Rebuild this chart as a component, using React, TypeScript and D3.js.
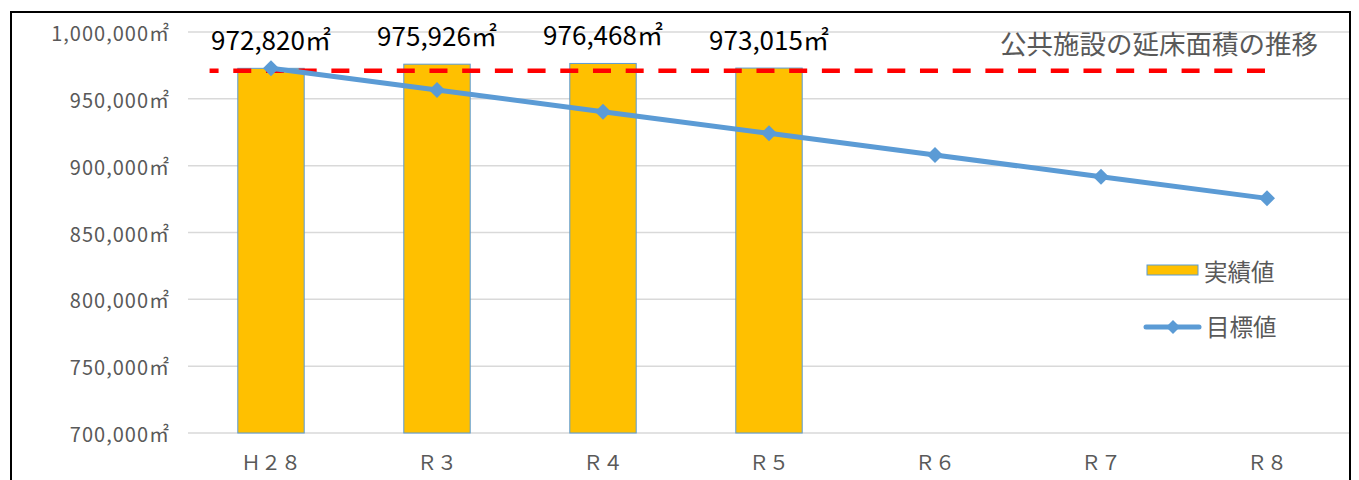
import React from "react";
import * as d3 from "d3";

// 年度（横軸）
const categories: string[] = ["Ｈ２８", "Ｒ３", "Ｒ４", "Ｒ５", "Ｒ６", "Ｒ７", "Ｒ８"];
// 実績値（㎡）
const actualValues: (number | null)[] = [972820, 975926, 976468, 973015, null, null, null];
// 目標値（㎡）
const targetValues: number[] = [972820, 956606, 940393, 924179, 907965, 891751, 875538];
// 基準線（赤破線）
const referenceValue = 971000;
// 縦軸目盛
const yTicks: number[] = [700000, 750000, 800000, 850000, 900000, 950000, 1000000];

const chartTitle = "公共施設の延床面積の推移";
const legendLabels = { actual: "実績値", target: "目標値" };

const W = 1359;
const H = 480;
const plot = { left: 188, right: 1350, top: 32, bottom: 433 };

const FONT = "'Noto Sans CJK JP', 'Noto Sans', sans-serif";
const GRAY = "#595959";
const BLUE = "#5B9BD5";
const GOLD = "#FFC000";

const fmt = d3.format(",");

export default function App() {
  const x = d3
    .scaleBand<string>()
    .domain(categories)
    .range([plot.left, plot.right])
    .paddingInner(0)
    .paddingOuter(0);
  const y = d3.scaleLinear().domain([700000, 1000000]).range([plot.bottom, plot.top]);

  const bw = x.bandwidth();
  const barW = bw * 0.4;
  const cx = (c: string) => (x(c) as number) + bw / 2;

  const targetPts: [number, number][] = categories.map((c, i) => [cx(c), y(targetValues[i])]);
  const line = d3.line();

  const diamond = (px: number, py: number, r: number) =>
    `M${px},${py - r}L${px + r},${py}L${px},${py + r}L${px - r},${py}Z`;

  const refX1 = (x(categories[0]) as number) + bw * 0.13;
  const refX2 = (x(categories[categories.length - 1]) as number) + bw * 0.55;

  return (
    <svg
      width={W}
      height={H}
      style={{ position: "absolute", left: 0, top: 0, background: "#fff" }}
    >
      {/* 枠線 */}
      <rect x={11} y={12} width={1339} height={490} fill="#fff" stroke="#000" strokeWidth={2} />

      {/* 目盛線と縦軸ラベル */}
      {yTicks.map((t) => (
        <g key={t}>
          <line
            x1={plot.left}
            x2={plot.right - 1}
            y1={y(t)}
            y2={y(t)}
            stroke="#D9D9D9"
            strokeWidth={1.5}
          />
          <text
            x={170}
            y={y(t) + 9}
            textAnchor="end"
            fontFamily={FONT}
            fontSize={20}
            letterSpacing={1}
            fill={GRAY}
          >
            {fmt(t) + "㎡"}
          </text>
        </g>
      ))}

      {/* 実績値の棒 */}
      {categories.map((c, i) => {
        const v = actualValues[i];
        if (v == null) return null;
        return (
          <rect
            key={c}
            x={cx(c) - barW / 2}
            y={y(v)}
            width={barW}
            height={y(700000) - y(v)}
            fill={GOLD}
            stroke={BLUE}
            strokeWidth={1}
          />
        );
      })}

      {/* 基準線 */}
      <line
        x1={refX1}
        x2={refX2}
        y1={y(referenceValue)}
        y2={y(referenceValue)}
        stroke="#FF0000"
        strokeWidth={4.5}
        strokeDasharray="18,14.7"
        strokeDashoffset={9}
      />

      {/* 目標値の折れ線 */}
      <path d={line(targetPts) ?? ""} fill="none" stroke={BLUE} strokeWidth={5} strokeLinejoin="round" />
      {targetPts.map(([px, py], i) => (
        <path key={i} d={diamond(px, py, 8)} fill={BLUE} />
      ))}

      {/* 実績値ラベル */}
      {categories.map((c, i) => {
        const v = actualValues[i];
        if (v == null) return null;
        return (
          <text
            key={c}
            x={cx(c)}
            y={y(v) - 18}
            textAnchor="middle"
            fontFamily={FONT}
            fontSize={26}
            fill="#000"
          >
            {fmt(v) + "㎡"}
          </text>
        );
      })}

      {/* 横軸ラベル */}
      {categories.map((c) => (
        <text
          key={c}
          x={cx(c)}
          y={470}
          textAnchor="middle"
          fontFamily={FONT}
          fontSize={20}
          fill={GRAY}
        >
          {c}
        </text>
      ))}

      {/* タイトル */}
      <text x={1318} y={54} textAnchor="end" fontFamily={FONT} fontSize={26.5} fill={GRAY}>
        {chartTitle}
      </text>

      {/* 凡例 */}
      <rect x={1147} y={265} width={51} height={10} fill={GOLD} stroke={BLUE} strokeWidth={1} />
      <text x={1204} y={281} fontFamily={FONT} fontSize={23.5} fill={GRAY}>
        {legendLabels.actual}
      </text>
      <line x1={1146} x2={1199} y1={327} y2={327} stroke={BLUE} strokeWidth={5} strokeLinecap="round" />
      <path d={diamond(1173, 327, 7)} fill={BLUE} />
      <text x={1206} y={336} fontFamily={FONT} fontSize={23.5} fill={GRAY}>
        {legendLabels.target}
      </text>
    </svg>
  );
}
